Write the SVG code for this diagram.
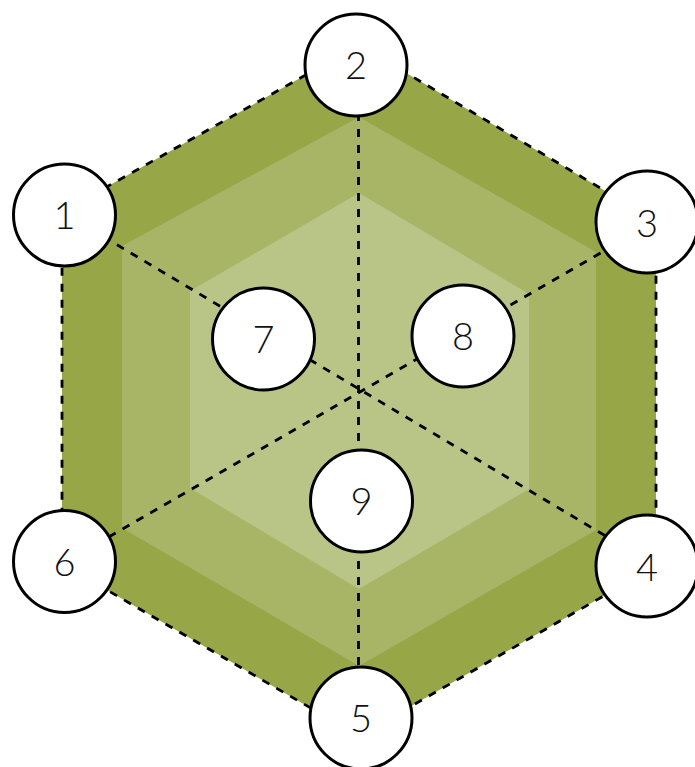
<svg xmlns="http://www.w3.org/2000/svg" width="695" height="767" viewBox="0 0 695 767">
<style>
.l1{fill:#97a646}
.l2{fill:#a8b567}
.l3{fill:#b9c587}
.dash{fill:none;stroke:#000;stroke-width:2.8;stroke-dasharray:8 8}
.node circle{fill:#fff;stroke:#000;stroke-width:3}
.node text{font-family:"Lato","Open Sans","DejaVu Sans",sans-serif;font-weight:300;font-size:38px;text-anchor:middle;fill:#111}
</style>
<rect width="695" height="767" fill="#fff"/>
<g id="background">
<polygon class="l1" points="359,45 656,221 656,566 359,736 62,564 62,212"/>
<polygon class="l2" points="359,117 596,252 596,530 359,666 122,528 122,246"/>
<polygon class="l3" points="359,193 529,294 529,489 359,589 190,488 190,291"/>
</g>
<g id="connectors">
<polygon class="dash" points="359,45 656,221 656,566 359,736 62,564 62,212"/>
<line class="dash" x1="62" y1="212" x2="656" y2="566"/>
<line class="dash" x1="656" y1="221" x2="62" y2="564"/>
<line class="dash" x1="358.5" y1="65" x2="358.5" y2="718"/>
</g>
<g id="node1" class="node"><circle cx="64.5" cy="215" r="51"/><text x="64.5" y="229">1</text></g>
<g id="node2" class="node"><circle cx="356" cy="65" r="51"/><text x="356" y="79">2</text></g>
<g id="node3" class="node"><circle cx="647" cy="222" r="51"/><text x="647" y="237">3</text></g>
<g id="node4" class="node"><circle cx="647" cy="566" r="51"/><text x="647" y="581">4</text></g>
<g id="node5" class="node"><circle cx="361" cy="718" r="51"/><text x="361" y="732">5</text></g>
<g id="node6" class="node"><circle cx="64.5" cy="561.5" r="51"/><text x="64.5" y="575.5">6</text></g>
<g id="node7" class="node"><circle cx="263.5" cy="339" r="51"/><text x="263.5" y="353">7</text></g>
<g id="node8" class="node"><circle cx="463" cy="336" r="51"/><text x="463" y="350">8</text></g>
<g id="node9" class="node"><circle cx="361.5" cy="501" r="51"/><text x="361.5" y="515">9</text></g>
</svg>
